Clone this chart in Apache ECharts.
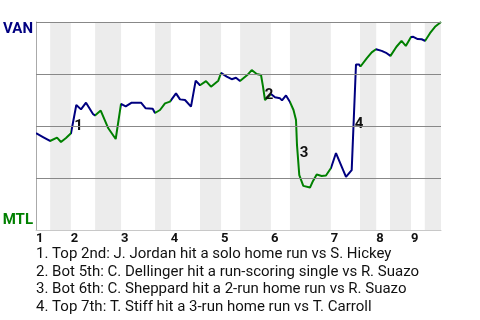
<!DOCTYPE html>
<html>
<head>
<meta charset="utf-8">
<script src="https://cdn.jsdelivr.net/npm/echarts@6/dist/echarts.min.js"></script>
<style>html,body{margin:0;padding:0;background:#fff}#c{width:480px;height:320px}</style>
</head>
<body>
<div id="c"></div>
<script>
// Game progress (0..100) at the start of each half-inning, last value = end of game
var halfInningBounds = [0, 3.5, 8.6, 14.6, 21.0, 29.4, 33.3, 40.5, 45.7, 50.4, 58.0, 62.7, 72.8, 80.0, 84.0, 87.4, 92.6, 96.0, 100];
var inningLabels = ['1', '2', '3', '4', '5', '6', '7', '8', '9'];
// VAN win probability (%) vs game progress
var progress = [0, 1.73, 3.46, 5.19, 6.17, 7.41, 8.64, 9.95, 11.11, 12.35, 14.07, 14.57, 15.98, 17.85, 19.68, 19.93, 20.99,
  22.15, 23.63, 25.93, 27.09, 28.81, 29.38, 30.62, 31.85, 33.09, 33.33, 34.57, 35.56, 36.79, 38.27, 39.43, 40.49,
  41.98, 43.21, 45.01, 45.68, 47.09, 48.32, 49.38, 50.37, 52.17, 53.26, 54.49, 55.56, 56.05, 56.54, 58.02,
  59.01, 60.25, 60.74, 61.73, 62.72, 63.58, 64.20, 64.44, 65.01, 66.0, 66.42, 67.65, 68.40, 69.31, 70.54, 71.60, 72.84,
  74.07, 76.54, 77.95, 79.01, 79.75, 80.12, 81.65, 82.89, 83.95, 85.36, 86.59, 87.53, 89.0, 90.25, 91.31, 92.59,
  93.16, 94.25, 95.23, 96.05, 97.28, 98.52, 100];
var winProb = [46.6, 44.7, 42.8, 44.4, 42.3, 44.2, 46.5, 60.1, 58.0, 61.2, 55.8, 55.0, 57.4, 48.9, 43.75, 44.1, 60.6,
  59.4, 61.2, 61.2, 58.5, 58.3, 56.25, 57.7, 60.9, 61.7, 62.0, 65.7, 62.8, 62.5, 59.3, 71.8, 69.6,
  71.6, 68.9, 71.8, 75.5, 73.7, 72.5, 73.2, 71.6, 74.5, 76.9, 75.0, 74.5, 68.9, 62.5, 65.4,
  63.8, 63.3, 62.3, 64.7, 61.5, 57.7, 52.9, 40.9, 26.4, 21.2, 20.4, 20.4, 23.6, 26.7, 26.0, 26.2, 29.8,
  37.0, 25.5, 28.8, 79.6, 79.6, 78.6, 82.5, 85.4, 86.9, 86.1, 85.0, 83.7, 88.1, 90.9, 88.5, 92.8,
  92.9, 91.8, 91.7, 90.9, 94.6, 97.7, 100];
// Key plays: marker number, progress, label win prob
var eventNums = ['1', '2', '3', '4'];
var eventProgress = [10.49, 57.53, 66.17, 79.75];
var eventWinProb = [49.7, 64.9, 36.8, 51.0];
var eventNotes = [
  '1. Top 2nd: J. Jordan hit a solo home run vs S. Hickey',
  '2. Bot 5th: C. Dellinger hit a run-scoring single vs R. Suazo',
  '3. Bot 6th: C. Sheppard hit a 2-run home run vs R. Suazo',
  '4. Top 7th: T. Stiff hit a 3-run home run vs T. Carroll'
];
var gridValues = [25, 50, 75, 100];
var teamTop = 'VAN', teamBottom = 'MTL';

var NAVY = '#000080', GREEN = '#008000';
var lineData = progress.map(function (x, i) { return [x, winProb[i]]; });
var pieces = [], bands = [], tops = [];
for (var i = 0; i < halfInningBounds.length - 1; i++) {
  pieces.push({ gte: halfInningBounds[i], lt: (i === halfInningBounds.length - 2 ? 1000 : halfInningBounds[i + 1]), color: i % 2 === 0 ? NAVY : GREEN });
  if (i % 2 === 1) bands.push([{ xAxis: halfInningBounds[i] }, { xAxis: halfInningBounds[i + 1] }]);
  else tops.push(halfInningBounds[i]);
}
var labelData = eventNums.map(function (n, i) { return { name: n, value: [eventProgress[i], eventWinProb[i]] }; });

var chart = echarts.init(document.getElementById('c'), null, { renderer: 'canvas' });
chart.setOption({
  animation: false,
  grid: { left: 36, right: 39, top: 22, bottom: 90 },
  xAxis: {
    type: 'value', min: 0, max: 100,
    axisLine: { show: true, lineStyle: { color: '#c8c8c8', width: 1 } },
    axisTick: { show: false },
    splitLine: { show: false },
    axisLabel: {
      customValues: tops,
      formatter: function (v) { var k = tops.indexOf(v); return k >= 0 ? inningLabels[k] : ''; },
      align: 'left', margin: 2, fontFamily: 'Roboto', fontWeight: 'bold', fontSize: 13, color: '#111'
    }
  },
  yAxis: {
    type: 'value', min: 0, max: 100,
    axisLine: { show: true, lineStyle: { color: '#aaaaaa', width: 1 } },
    axisTick: { show: false }, axisLabel: { show: false }, splitLine: { show: false }
  },
  visualMap: { show: false, type: 'piecewise', dimension: 0, seriesIndex: 2, pieces: pieces },
  series: [
    { type: 'line', data: [], z: 1, silent: true,
      markArea: { silent: true, itemStyle: { color: '#ececec' }, data: bands } },
    { type: 'line', data: [], z: 2, silent: true,
      markLine: { silent: true, symbol: 'none', label: { show: false },
        lineStyle: { color: '#888888', width: 1, type: 'solid' },
        data: gridValues.map(function (v) { return { yAxis: v }; }) } },
    { type: 'line', data: lineData, z: 3, showSymbol: false, symbol: 'none',
      lineStyle: { width: 2 } },
    { type: 'scatter', data: labelData, z: 4, symbolSize: 0, silent: true,
      itemStyle: { color: '#111', opacity: 1 },
      label: { show: true, position: 'inside', formatter: '{b}', fontFamily: 'Roboto', fontWeight: 'bold', fontSize: 15,
        color: '#111', opacity: 1, textBorderWidth: 0 } }
  ],
  graphic: [
    { type: 'text', x: 33, y: 29, style: { text: teamTop, align: 'right', verticalAlign: 'middle', font: 'bold 15px Roboto', fill: NAVY } },
    { type: 'text', x: 33, y: 220, style: { text: teamBottom, align: 'right', verticalAlign: 'middle', font: 'bold 15px Roboto', fill: GREEN } },
    { type: 'text', x: 36, y: 245.5, style: { text: eventNotes.join('\n'), font: '15px Roboto', lineHeight: 17.6, fill: '#111' } }
  ]
});
</script>
</body>
</html>
